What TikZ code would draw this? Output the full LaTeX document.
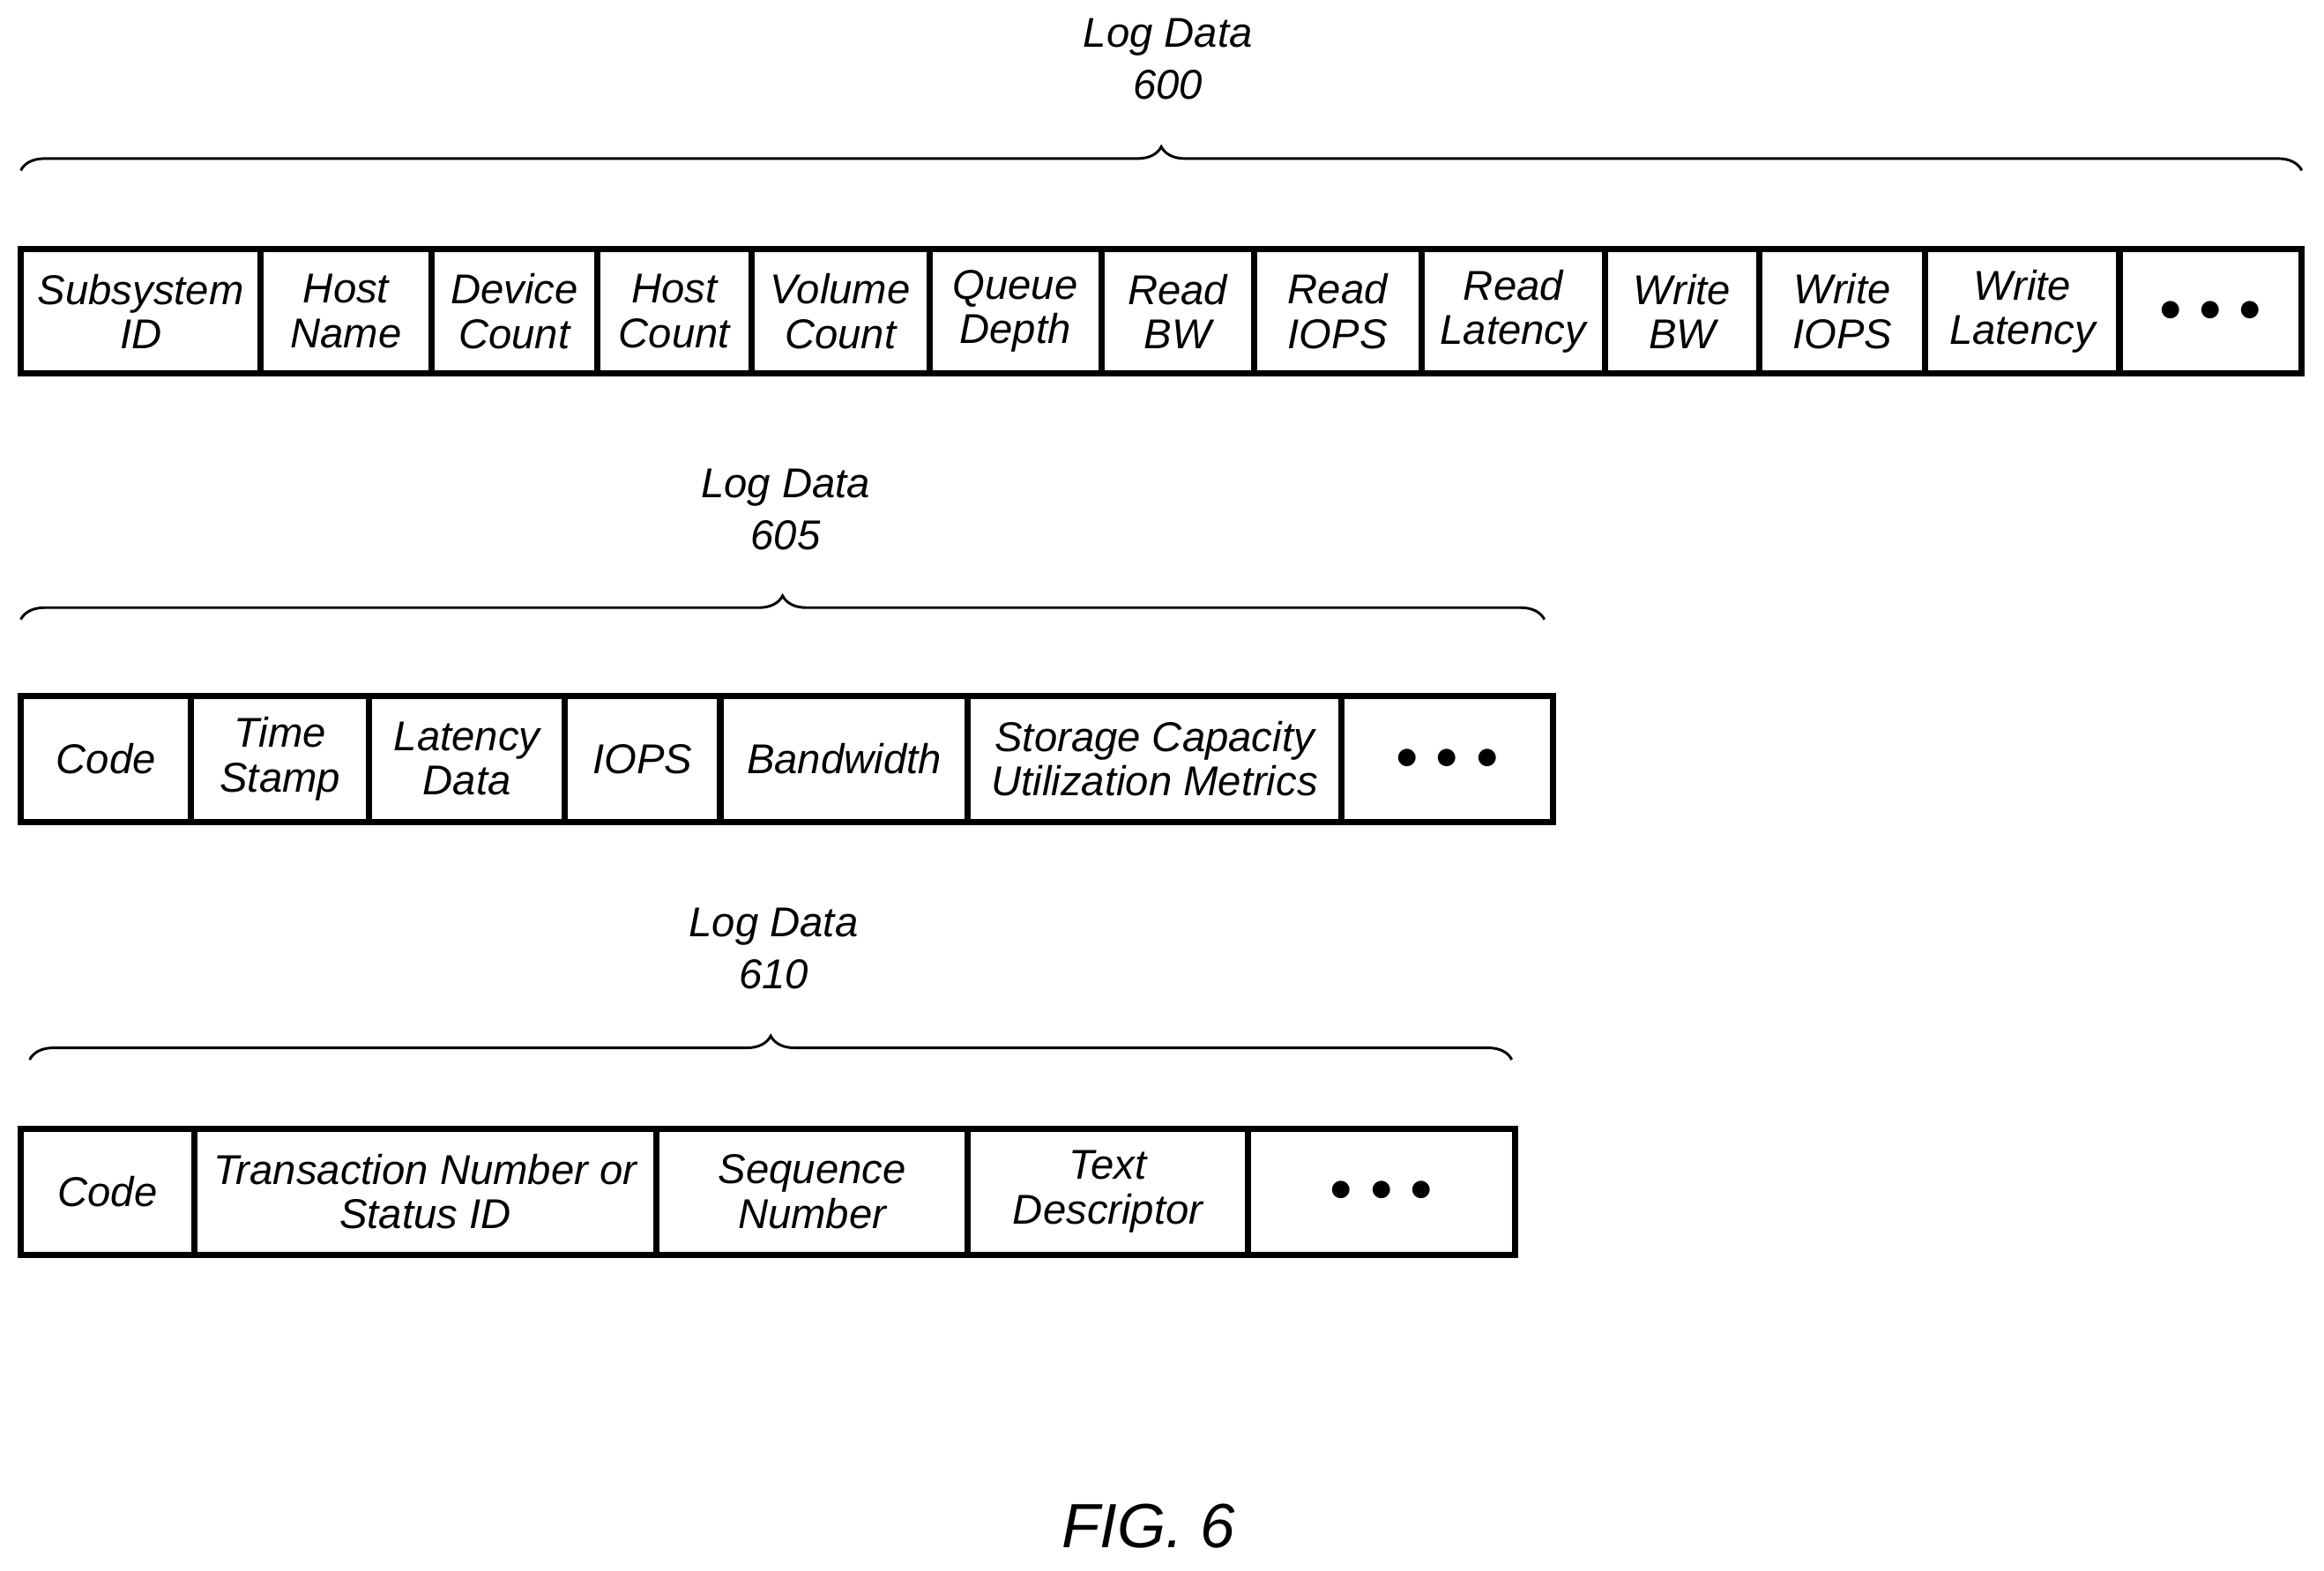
\documentclass[tikz,border=0pt]{standalone}
\usepackage{fontspec}
\setmainfont{Liberation Sans}
\usetikzlibrary{decorations.pathreplacing}

\tikzset{
  cell/.style={draw, line width=2.4pt, inner sep=0pt, align=center, font=\itshape\fontsize{16}{17}\selectfont},
  label/.style={align=center, font=\itshape\fontsize{16}{20}\selectfont},
  grp/.style={decorate, decoration={brace, amplitude=0.32cm}, line width=1pt}
}
\newcommand{\dotsbox}{$\bullet\,\bullet\,\bullet$}

\begin{document}
\begin{tikzpicture}[x=0.02cm, y=-0.02cm]
\useasboundingbox (0,0) rectangle (1568,1060);

% Log Data 600
\node[label] (t0) at (788,40) {Log Data\\600};
\foreach \l/\r/\txt [count=\i] in {14/176/{Subsystem\\ID}, 176/291/{Host\\Name}, 291/403/{Device\\Count}, 403/507/{Host\\Count}, 507/627/{Volume\\Count}, 627/743/{Queue\\Depth}, 743/846/{Read\\BW}, 846/959/{Read\\IOPS}, 959/1083/{Read\\Latency}, 1083/1187/{Write\\BW}, 1187/1299/{Write\\IOPS}, 1299/1430/{Write\\Latency}, 1430/1553/{\dotsbox}}
  \node[cell, minimum width=(\r-\l)*0.02cm, minimum height=1.68cm] (a\i) at ({(\l+\r)/2},210) {\txt};
\draw[grp] (14,115) -- (1553,115);

% Log Data 605
\node[label] (t1) at (530,344) {Log Data\\605};
\foreach \l/\r/\txt [count=\i] in {14/129/{Code}, 129/249/{Time\\Stamp}, 249/381/{Latency\\Data}, 381/486/{IOPS}, 486/653/{Bandwidth}, 653/905/{Storage Capacity\\Utilization Metrics}, 905/1048/{\dotsbox}}
  \node[cell, minimum width=(\r-\l)*0.02cm, minimum height=1.7cm] (b\i) at ({(\l+\r)/2},512) {\txt};
\draw[grp] (14,418) -- (1042,418);

% Log Data 610
\node[label] (t2) at (522,640) {Log Data\\610};
\foreach \l/\r/\txt [count=\i] in {14/131/{Code}, 131/443/{Transaction Number or\\Status ID}, 443/653/{Sequence\\Number}, 653/842/{Text\\Descriptor}, 842/1022/{\dotsbox}}
  \node[cell, minimum width=(\r-\l)*0.02cm, minimum height=1.7cm] (c\i) at ({(\l+\r)/2},804) {\txt};
\draw[grp] (20,715) -- (1020,715);

\node[font=\itshape\fontsize{24}{26}\selectfont] (fig) at (775,1030) {FIG. 6};
\end{tikzpicture}
\end{document}
